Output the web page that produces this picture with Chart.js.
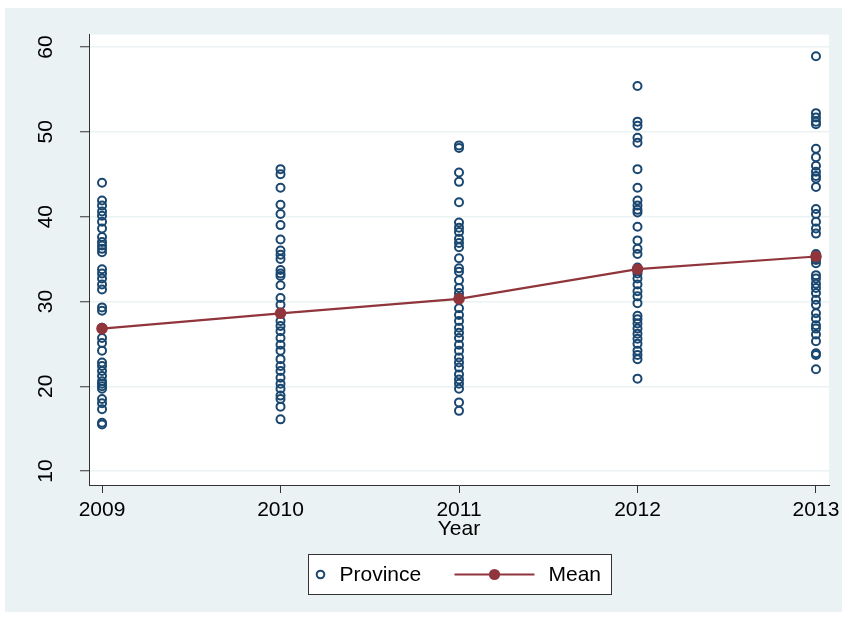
<!DOCTYPE html>
<html>
<head>
<meta charset="utf-8">
<script src="https://cdn.jsdelivr.net/npm/chart.js@4.4.0/dist/chart.umd.min.js"></script>
<style>
  body { margin: 0; background: #fff; }
  canvas { display: block; }
</style>
</head>
<body>
<canvas id="chart" width="847" height="620"></canvas>
<script>
var years = [2009, 2010, 2011, 2012, 2013]
var yTicks = [10, 20, 30, 40, 50, 60]

// province values per year
var p2009 = [44.0, 41.9, 41.3, 40.6, 40.1, 39.4, 38.6, 37.6, 37.0, 36.6, 36.2, 35.8, 33.8, 33.3, 32.7, 32.0, 31.4,
  29.3, 28.9, 26.9, 25.7, 25.1, 24.2, 22.8, 22.4, 21.8, 21.2, 20.6, 20.3, 20.0, 19.7, 18.5, 18.0, 17.3, 15.7, 15.5]
var p2010 = [45.6, 45.0, 43.4, 41.4, 40.3, 39.0, 37.3, 36.0, 35.5, 35.0, 33.7, 33.3, 33.0, 31.9, 30.4, 29.6,
  28.6, 27.7, 27.1, 26.5, 25.7, 24.9, 24.2, 23.2, 22.4, 21.8, 21.0, 20.3, 19.7, 18.9, 18.5, 17.6, 16.1]
var p2011 = [48.4, 48.1, 45.2, 44.1, 41.7, 39.3, 38.7, 38.2, 37.4, 36.9, 36.4, 35.1, 33.9, 33.5, 32.5, 31.6, 31.0,
  30.5, 29.2, 28.4, 27.7, 26.9, 26.3, 25.7, 24.9, 24.2, 23.4, 22.8, 22.2, 21.4, 20.8, 20.3, 19.7, 18.1, 17.1]
var p2012 = [55.4, 51.2, 50.7, 49.3, 48.7, 45.6, 43.4, 41.9, 41.3, 40.8, 40.5, 38.8, 37.2, 36.2, 35.6, 34.0, 33.6,
  33.3, 32.7, 32.0, 31.2, 30.6, 29.8, 28.3, 27.9, 27.4, 26.8, 26.2, 25.6, 25.0, 24.2, 23.7, 23.2, 20.9]
var p2013 = [58.9, 52.2, 51.7, 51.2, 50.9, 48.0, 47.0, 46.0, 45.3, 44.8, 44.5, 43.5, 40.9, 40.3, 39.4, 38.6, 38.0,
  35.6, 35.1, 34.9, 34.5, 33.1, 32.7, 32.1, 31.6, 31.0, 30.2, 29.6, 28.6, 28.0, 27.2, 26.8, 26.1, 25.3, 23.9, 23.7, 22.0]
var means = [26.8, 28.6, 30.3, 33.8, 35.3]

var navy = '#1a476f'
var maroon = '#90353b'
var font = 'Liberation Sans, Arial, sans-serif'

var provinces = []
var perYear = [p2009, p2010, p2011, p2012, p2013]
for (let i = 0; i < years.length; i++) {
  for (let j = 0; j < perYear[i].length; j++) {
    provinces.push({x: years[i], y: perYear[i][j]})
  }
}
var meanPts = years.map(function (y, i) { return {x: y, y: means[i]} })

var background = {
  id: 'background',
  beforeDraw: function (chart) {
    var c = chart.ctx, a = chart.chartArea
    c.save()
    c.fillStyle = '#fff'
    c.fillRect(0, 0, chart.width, chart.height)
    c.fillStyle = '#eaf2f3'
    c.fillRect(5, 8, 837, 604)
    c.fillStyle = '#fff'
    c.fillRect(a.left, a.top, a.right - a.left, a.bottom - a.top)
    c.restore()
  }
}

var legendBox = {
  id: 'legendBox',
  afterDraw: function (chart) {
    var c = chart.ctx, a = chart.chartArea
    var w = 303, h = 40
    var left = Math.round((a.left + a.right) / 2 - w / 2) + 0.5
    var top = 554.5
    var cy = top + h / 2
    c.save()
    c.fillStyle = '#fff'
    c.fillRect(left, top, w, h)
    c.strokeStyle = '#333'
    c.lineWidth = 1
    c.strokeRect(left, top, w, h)
    // province marker
    c.strokeStyle = navy
    c.lineWidth = 2
    c.beginPath()
    c.arc(left + 12, cy, 3.8, 0, Math.PI * 2)
    c.stroke()
    c.fillStyle = '#000'
    c.font = '21px ' + font
    c.textBaseline = 'middle'
    c.fillText('Province', left + 31, cy + 1)
    // mean marker
    c.strokeStyle = maroon
    c.lineWidth = 2.2
    c.beginPath()
    c.moveTo(left + 146, cy)
    c.lineTo(left + 226, cy)
    c.stroke()
    c.fillStyle = maroon
    c.beginPath()
    c.arc(left + 186, cy, 5.6, 0, Math.PI * 2)
    c.fill()
    c.fillStyle = '#000'
    c.fillText('Mean', left + 240, cy + 1)
    c.restore()
  }
}

var ctx = document.getElementById('chart').getContext('2d')
var myChart = new Chart(ctx, {
  type: 'scatter',
  data: {
    datasets: [{
      label: 'Province',
      data: provinces,
      order: 1,
      showLine: false,
      pointRadius: 4,
      pointBorderWidth: 2,
      borderColor: navy,
      backgroundColor: 'rgba(0,0,0,0)'
    }, {
      label: 'Mean',
      data: meanPts,
      order: 0,
      showLine: true,
      borderColor: maroon,
      borderWidth: 2.2,
      pointRadius: 5.8,
      pointBorderWidth: 0,
      pointBackgroundColor: maroon,
      pointBorderColor: maroon
    }]
  },
  options: {
    responsive: false,
    animation: false,
    devicePixelRatio: 1,
    layout: {padding: {left: 0, top: 31, right: 18, bottom: 78}},
    plugins: {
      legend: {display: false},
      tooltip: {enabled: false}
    },
    scales: {
      x: {
        type: 'linear',
        min: 2008.927,
        max: 2013.073,
        afterBuildTicks: function (s) { s.ticks = years.map(function (v) { return {value: v} }) },
        afterFit: function (s) { s.height = 57 },
        grid: {drawOnChartArea: false, drawTicks: true, tickLength: 8, tickColor: '#333', tickWidth: 1},
        border: {display: true, color: '#333', width: 1},
        ticks: {
          color: '#000',
          padding: 5,
          font: {family: font, size: 21},
          callback: function (v) { return String(v) }
        },
        title: {display: true, text: 'Year', color: '#000', padding: {top: 0, bottom: 0}, font: {family: font, size: 21}}
      },
      y: {
        min: 8.36,
        max: 61.46,
        afterBuildTicks: function (s) { s.ticks = yTicks.map(function (v) { return {value: v} }) },
        afterFit: function (s) { s.width = 89 },
        grid: {color: '#eaf2f3', lineWidth: 1.5, drawTicks: true, tickLength: 9, tickColor: '#333', tickWidth: 1},
        border: {display: true, color: '#333', width: 1},
        ticks: {
          color: '#000',
          padding: 22,
          minRotation: 90,
          maxRotation: 90,
          crossAlign: 'center',
          font: {family: font, size: 21}
        }
      }
    }
  },
  plugins: [background, legendBox]
})
</script>
</body>
</html>
